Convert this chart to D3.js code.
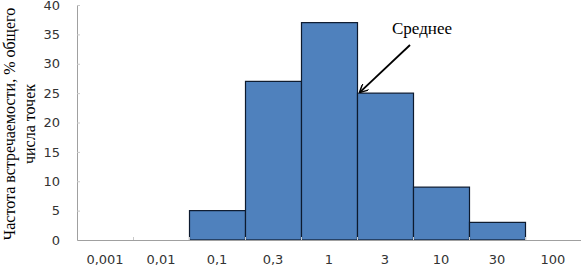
<!DOCTYPE html>
<html>
<head>
<meta charset="utf-8">
<script src="https://cdn.jsdelivr.net/npm/d3@7"></script>
<style>
  body { margin: 0; background: #fff; }
  svg { display: block; }
</style>
</head>
<body>
<script>
// categories (log-scale bins) and frequency, % of total
var categories = ['0,001', '0,01', '0,1', '0,3', '1', '3', '10', '30', '100'];
var values = [0, 0, 5, 27, 37, 25, 9, 3, 0];
var yTicks = [0, 5, 10, 15, 20, 25, 30, 35, 40];
var yLabelLines = ['Частота встречаемости, % общего', 'числа точек'];
var note = 'Среднее';

var width = 581, height = 268;
var margin = { left: 77, right: 0, top: 5, bottom: 28 };
var serif = "'Liberation Serif', 'Times New Roman', serif";
var sans = "'DejaVu Sans', Verdana, sans-serif";

var svg = d3.select('body').append('svg')
    .attr('width', width)
    .attr('height', height);

var x = d3.scaleBand()
    .domain(categories)
    .range([margin.left, width - margin.right])
    .padding(0);

var y = d3.scaleLinear()
    .domain([0, 40])
    .range([height - margin.bottom, margin.top]);

var half = x.bandwidth() / 2;

svg.selectAll('rect.bar')
    .data(categories.map(function(c, i) { return { cat: c, v: values[i] }; })
      .filter(function(d) { return d.v > 0; }))
    .enter()
    .append('rect')
    .attr('class', 'bar')
    .attr('x', function(d) { return x(d.cat) + 0.5; })
    .attr('y', function(d) { return y(d.v); })
    .attr('width', x.bandwidth())
    .attr('height', function(d) { return y(0) - y(d.v); })
    .attr('fill', '#4f81bd')
    .attr('stroke', '#0d1a2e')
    .attr('stroke-width', 1.2);

// y axis
var yAxis = svg.append('g')
    .attr('transform', 'translate(' + margin.left + ',0)')
    .call(d3.axisRight(y).tickValues(yTicks).tickSize(3).tickFormat(''));
yAxis.select('.domain').attr('stroke', '#a0a0a0');
yAxis.selectAll('.tick line').attr('stroke', '#c8c8c8');

svg.selectAll('text.ytick')
    .data(yTicks)
    .enter()
    .append('text')
    .attr('class', 'ytick')
    .attr('x', 60)
    .attr('y', function(d) { return y(d) + 4.7; })
    .attr('text-anchor', 'end')
    .attr('font-family', sans)
    .attr('font-size', 13)
    .attr('fill', '#333')
    .text(function(d) { return d; });

// x axis
var xAxis = svg.append('g')
    .attr('transform', 'translate(0,' + y(0) + ')')
    .call(d3.axisTop(x).tickSize(0).tickFormat(''));
xAxis.select('.domain').attr('stroke', '#a0a0a0');

svg.selectAll('line.xtick')
    .data(categories.slice(1))
    .enter()
    .append('line')
    .attr('class', 'xtick')
    .attr('x1', function(d) { return x(d) + 0.5; })
    .attr('x2', function(d) { return x(d) + 0.5; })
    .attr('y1', y(0))
    .attr('y2', y(0) - 3)
    .attr('stroke', '#c8c8c8');

svg.selectAll('text.xtick')
    .data(categories)
    .enter()
    .append('text')
    .attr('class', 'xtick')
    .attr('x', function(d) { return x(d) + half; })
    .attr('y', 264)
    .attr('text-anchor', 'middle')
    .attr('font-family', sans)
    .attr('font-size', 13)
    .attr('fill', '#333')
    .text(function(d) { return d; });

// y axis title, two lines rotated
svg.append('text')
    .attr('transform', 'translate(15,124) rotate(-90)')
    .attr('text-anchor', 'middle')
    .attr('font-family', serif)
    .attr('font-size', 16)
    .attr('fill', '#000')
    .selectAll('tspan')
    .data(yLabelLines)
    .enter()
    .append('tspan')
    .attr('x', 0)
    .attr('dy', function(d, i) { return i === 0 ? 0 : 20; })
    .text(function(d) { return d; });

// annotation arrow pointing at the mean
var tip = [x('3') + 3, y(25) - 1];
svg.append('defs').append('marker')
    .attr('id', 'arrow')
    .attr('viewBox', '0 0 10 10')
    .attr('refX', 9)
    .attr('refY', 5)
    .attr('markerWidth', 9)
    .attr('markerHeight', 9)
    .attr('markerUnits', 'userSpaceOnUse')
    .attr('orient', 'auto')
    .append('path')
    .attr('d', 'M0,0 L10,5 L0,10')
    .attr('fill', 'none')
    .attr('stroke', '#000')
    .attr('stroke-width', 1.6);

svg.append('line')
    .attr('x1', 410)
    .attr('y1', 45)
    .attr('x2', tip[0])
    .attr('y2', tip[1])
    .attr('stroke', '#000')
    .attr('stroke-width', 1.8)
    .attr('marker-end', 'url(#arrow)');

svg.append('text')
    .attr('x', 392)
    .attr('y', 34)
    .attr('font-family', serif)
    .attr('font-size', 17)
    .attr('fill', '#000')
    .text(note);
</script>
</body>
</html>
